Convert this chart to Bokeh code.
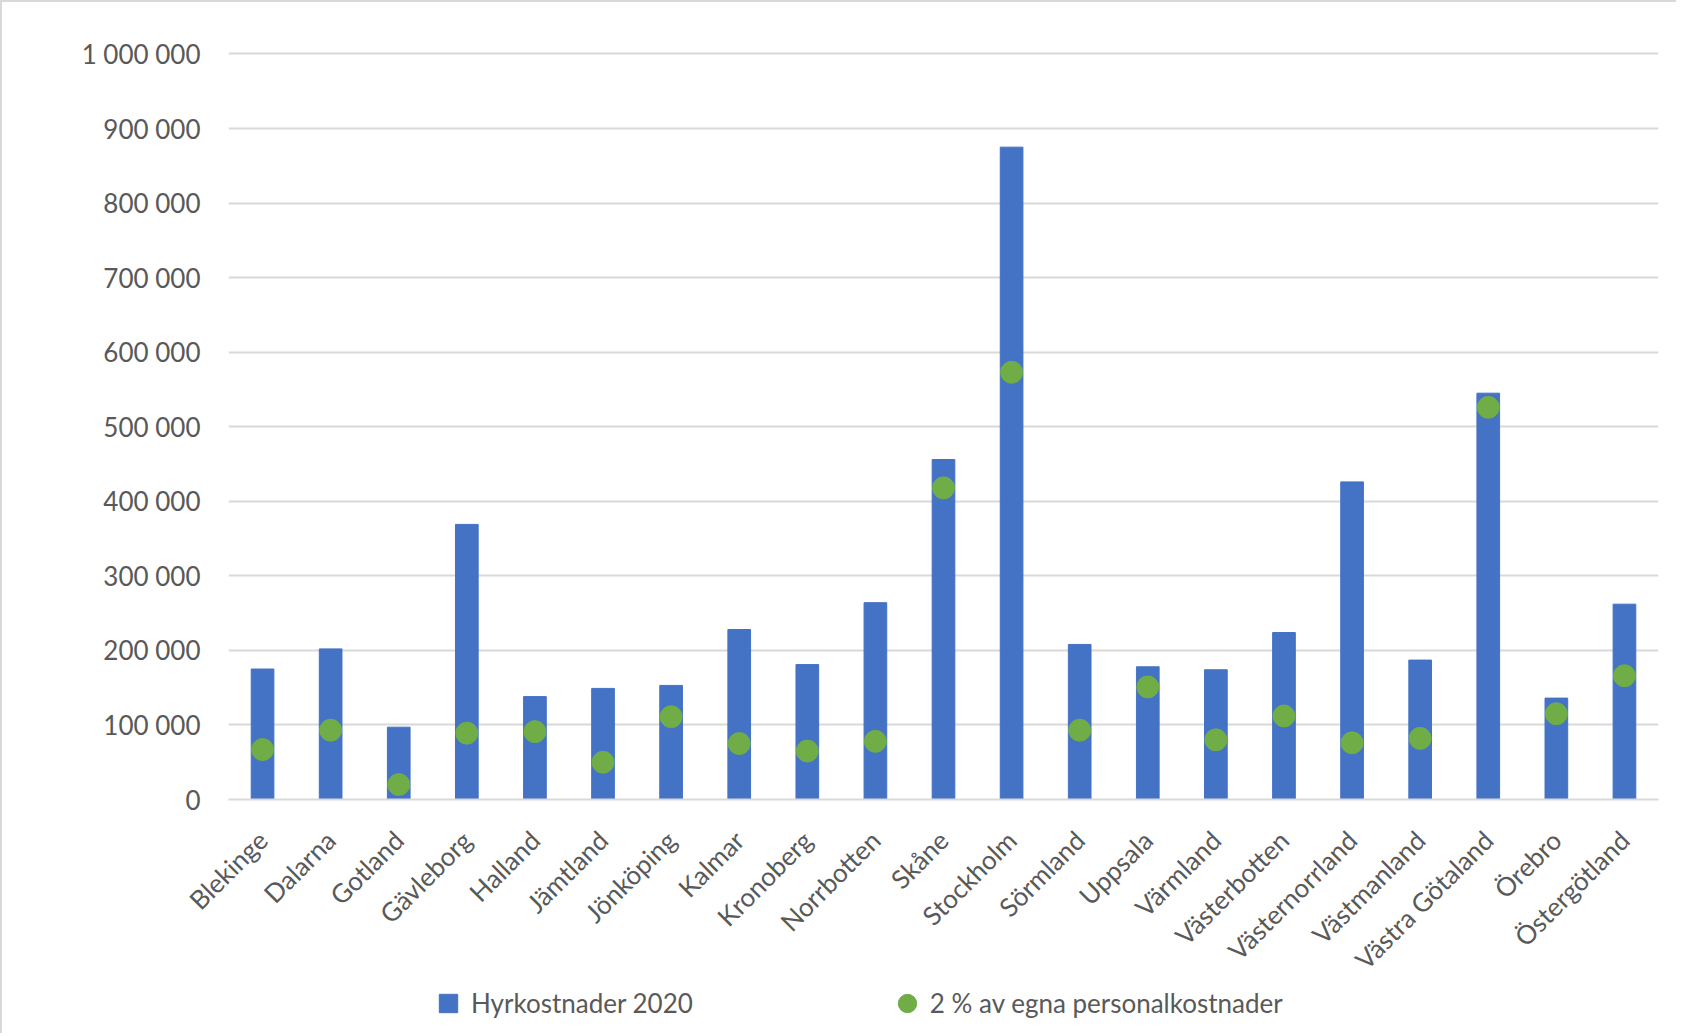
import math
from bokeh.plotting import figure
from bokeh.layouts import column
from bokeh.models import Range1d, FactorRange, FixedTicker, Legend, LegendItem, ColumnDataSource
from bokeh.embed import file_html
from bokeh.resources import INLINE

categories = ["Blekinge", "Dalarna", "Gotland", "Gävleborg", "Halland", "Jämtland", "Jönköping",
              "Kalmar", "Kronoberg", "Norrbotten", "Skåne", "Stockholm", "Sörmland", "Uppsala",
              "Värmland", "Västerbotten", "Västernorrland", "Västmanland", "Västra Götaland",
              "Örebro", "Östergötland"]
hyrkostnader = [175000, 202000, 97000, 369000, 138000, 149000, 153000,
                228000, 181000, 264000, 456000, 875000, 208000, 178000,
                174000, 224000, 426000, 187000, 545000, 136000, 262000]
personal = [67000, 93000, 20000, 89000, 91000, 50000, 111000,
            75000, 65000, 78000, 418000, 573000, 93000, 151000,
            80000, 112000, 76000, 82000, 526000, 115000, 166000]
ytick_values = [0, 100000, 200000, 300000, 400000, 500000, 600000, 700000, 800000, 900000, 1000000]
ytick_labels = ["0", "100 000", "200 000", "300 000", "400 000", "500 000", "600 000",
                "700 000", "800 000", "900 000", "1 000 000"]
series_names = ["Hyrkostnader 2020", "2 % av egna personalkostnader"]

FONT = "Lato"
TXT = "#595959"
GRID = "#d9d9d9"
BAR = "#4472C4"
DOT = "#70AD47"

src = ColumnDataSource(dict(cat=categories, hyr=hyrkostnader, pers=personal))
xr = FactorRange(*categories, range_padding=0)

# ---------------- main chart ----------------
p = figure(frame_width=1430, frame_height=753, output_backend="svg", toolbar_location=None,
           x_range=xr, y_range=Range1d(0, 1010000),
           min_border_left=226, min_border_right=18, min_border_top=44, min_border_bottom=0)
p.outline_line_color = None
p.background_fill_color = "white"
p.border_fill_color = "white"

bars = p.vbar(x="cat", top="hyr", width=0.333, source=src, fill_color=BAR, line_color=BAR)
dots = p.scatter(x="cat", y="pers", size=22, source=src, fill_color=DOT, line_color=DOT)

p.xgrid.grid_line_color = None
p.ygrid.grid_line_color = GRID
p.ygrid.grid_line_width = 2
p.yaxis.ticker = FixedTicker(ticks=ytick_values)
p.yaxis.major_label_overrides = {v: l for v, l in zip(ytick_values, ytick_labels)}
p.yaxis.axis_line_color = None
p.yaxis.major_tick_line_color = None
p.yaxis.minor_tick_line_color = None
p.yaxis.major_label_standoff = 22
p.yaxis.major_label_text_font = FONT
p.yaxis.major_label_text_font_size = "26px"
p.yaxis.major_label_text_color = TXT

p.xaxis.axis_line_color = GRID
p.xaxis.axis_line_width = 2
p.xaxis.major_tick_line_color = None
p.xaxis.major_label_orientation = math.pi / 4
p.xaxis.major_label_standoff = 30
p.xaxis.major_label_text_font = FONT
p.xaxis.major_label_text_font_size = "26px"
p.xaxis.major_label_text_color = TXT

# ---------------- legend strip ----------------
lg = figure(width=1674, height=44, output_backend="svg", toolbar_location=None,
            x_range=xr, y_range=Range1d(-2, -1),
            x_axis_location=None, y_axis_location=None,
            min_border=0, min_border_left=0, min_border_right=0, min_border_top=0, min_border_bottom=0)
lg.outline_line_color = None
lg.xgrid.grid_line_color = None
lg.ygrid.grid_line_color = None
lg.background_fill_color = "white"
lg.border_fill_color = "white"
# key glyphs for the legend (their data lies outside this strip's view)
bar_key = lg.scatter(x="cat", y="hyr", source=src, marker="square", size=17, fill_color=BAR, line_color=BAR)
dot_key = lg.scatter(x="cat", y="pers", source=src, marker="circle", size=22, fill_color=DOT, line_color=DOT)

legend = Legend(items=[LegendItem(label=series_names[0], renderers=[bar_key]),
                       LegendItem(label=series_names[1], renderers=[dot_key])],
                location=(197, 7), orientation="horizontal", padding=0, margin=0,
                glyph_width=46, glyph_height=46, label_standoff=0, spacing=191,
                border_line_color=None, background_fill_alpha=0,
                label_text_font=FONT, label_text_font_size="26px", label_text_color=TXT)
lg.add_layout(legend, "center")

layout = column(p, lg, spacing=0)
layout.styles = {"border-left": "2px solid #d9d9d9", "border-top": "2px solid #d9d9d9"}

open("out.html", "w").write(file_html(layout, INLINE))
